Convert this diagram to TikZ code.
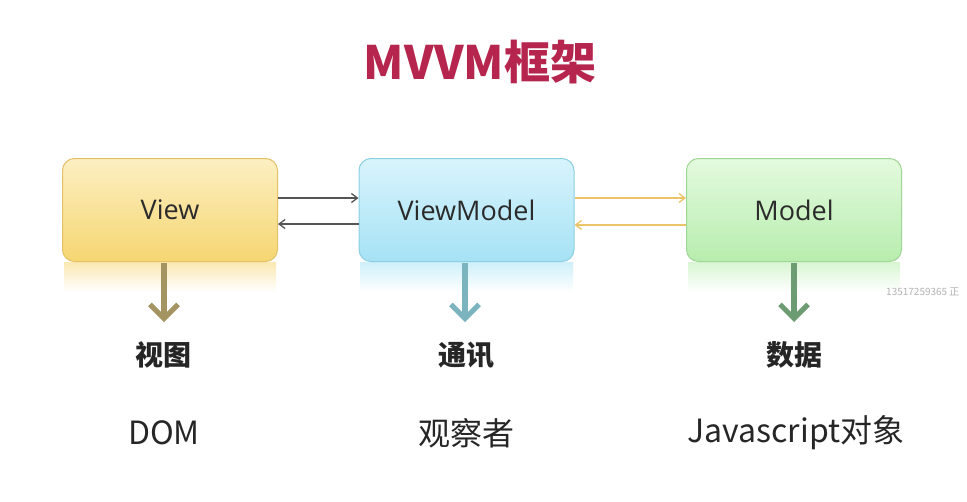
\documentclass[tikz,border=0pt]{standalone}
\usepackage{fontspec}
\usetikzlibrary{arrows.meta}
\setmainfont{Open Sans}
\newfontfamily\cjk{Noto Sans CJK SC}
\definecolor{titlered}{HTML}{B5254D}
\definecolor{vtop}{HTML}{FCEFC2}
\definecolor{vbot}{HTML}{F6D672}
\definecolor{vbrd}{HTML}{E3C265}
\definecolor{vmtop}{HTML}{D8F4FC}
\definecolor{vmbot}{HTML}{A6E2F5}
\definecolor{vmbrd}{HTML}{8CCFE3}
\definecolor{mtop}{HTML}{E3FADE}
\definecolor{mbot}{HTML}{B8EDAE}
\definecolor{mbrd}{HTML}{9FD695}
\definecolor{vdown}{HTML}{A39461}
\definecolor{vmdown}{HTML}{7BB3BE}
\definecolor{mdown}{HTML}{6E9C72}
\definecolor{darkline}{HTML}{555555}
\definecolor{goldline}{HTML}{EBC46A}
\definecolor{boxtext}{HTML}{2B2B2B}
\tikzset{
  boxnode/.style={rounded corners=12pt, minimum width=215pt, minimum height=103pt,
    line width=1pt, font=\fontsize{27}{30}\selectfont, text=boxtext, inner sep=0pt},
  refl/.style={draw=none},
  harrow/.style={line width=1.3pt, -{Straight Barb[length=6pt,width=9pt]}},
  downarrow/.style={line width=6pt, -{Straight Barb[length=14pt,width=28pt,line width=5pt]}},
  lab/.style={font=\cjk\fontsize{32}{36}\selectfont, text=black!85, inner sep=0pt},
  labbold/.style={font=\cjk\bfseries\fontsize{28}{32}\selectfont, text=black!85, inner sep=0pt},
}
\begin{document}
\begin{tikzpicture}[x=1pt,y=-1pt]
\useasboundingbox[fill=white] (0,0) rectangle (967,501);
% title
\node[font=\cjk\bfseries\fontsize{46}{50}\selectfont, text=titlered, inner sep=0pt] (title) at (480,62) {MVVM框架};
% reflections
\path[top color=vbot!55, bottom color=white, refl] (64,262) rectangle (276,292);
\path[top color=vmbot!55, bottom color=white, refl] (360,262) rectangle (573,292);
\path[top color=mbot!55, bottom color=white, refl] (688,262) rectangle (900,292);
% boxes
\node[boxnode, draw=vbrd, top color=vtop, bottom color=vbot] (View) at (170,210) {View};
\node[boxnode, draw=vmbrd, top color=vmtop, bottom color=vmbot] (VM) at (466.5,210) {ViewModel};
\node[boxnode, draw=mbrd, top color=mtop, bottom color=mbot] (Model) at (794,210) {Model};
% horizontal arrows
\draw[harrow, draw=darkline] ([yshift=12pt]View.east) -- ([yshift=12pt]VM.west);
\draw[harrow, draw=darkline] ([yshift=-14pt]VM.west) -- ([yshift=-14pt]View.east);
\draw[harrow, draw=goldline] ([yshift=12pt]VM.east) -- ([yshift=12pt]Model.west);
\draw[harrow, draw=goldline] ([yshift=-15pt]Model.west) -- ([yshift=-15pt]VM.east);
% down arrows
\coordinate (vs) at (164,262.5);
\coordinate (ve) at (164,322);
\coordinate (vms) at (465,262.5);
\coordinate (vme) at (465,322);
\coordinate (ms) at (794,262.5);
\coordinate (me) at (794,322);
\draw[downarrow, draw=vdown] (vs) -- (ve);
\draw[downarrow, draw=vmdown] (vms) -- (vme);
\draw[downarrow, draw=mdown] (ms) -- (me);
% labels
\node[labbold] (l1) at (163,355) {视图};
\node[labbold] (l2) at (466,355) {通讯};
\node[labbold] (l3) at (794,355) {数据};
\node[lab] (d1) at (164,433) {DOM};
\node[lab] (d2) at (466,433) {观察者};
\node[lab] (d3) at (796,433) {Javascript对象};
% watermark
\node[font=\fontsize{10}{12}\selectfont\cjk, text=black!30, anchor=west, inner sep=0pt] (wm) at (886,292) {13517259365 正};
\end{tikzpicture}
\end{document}
